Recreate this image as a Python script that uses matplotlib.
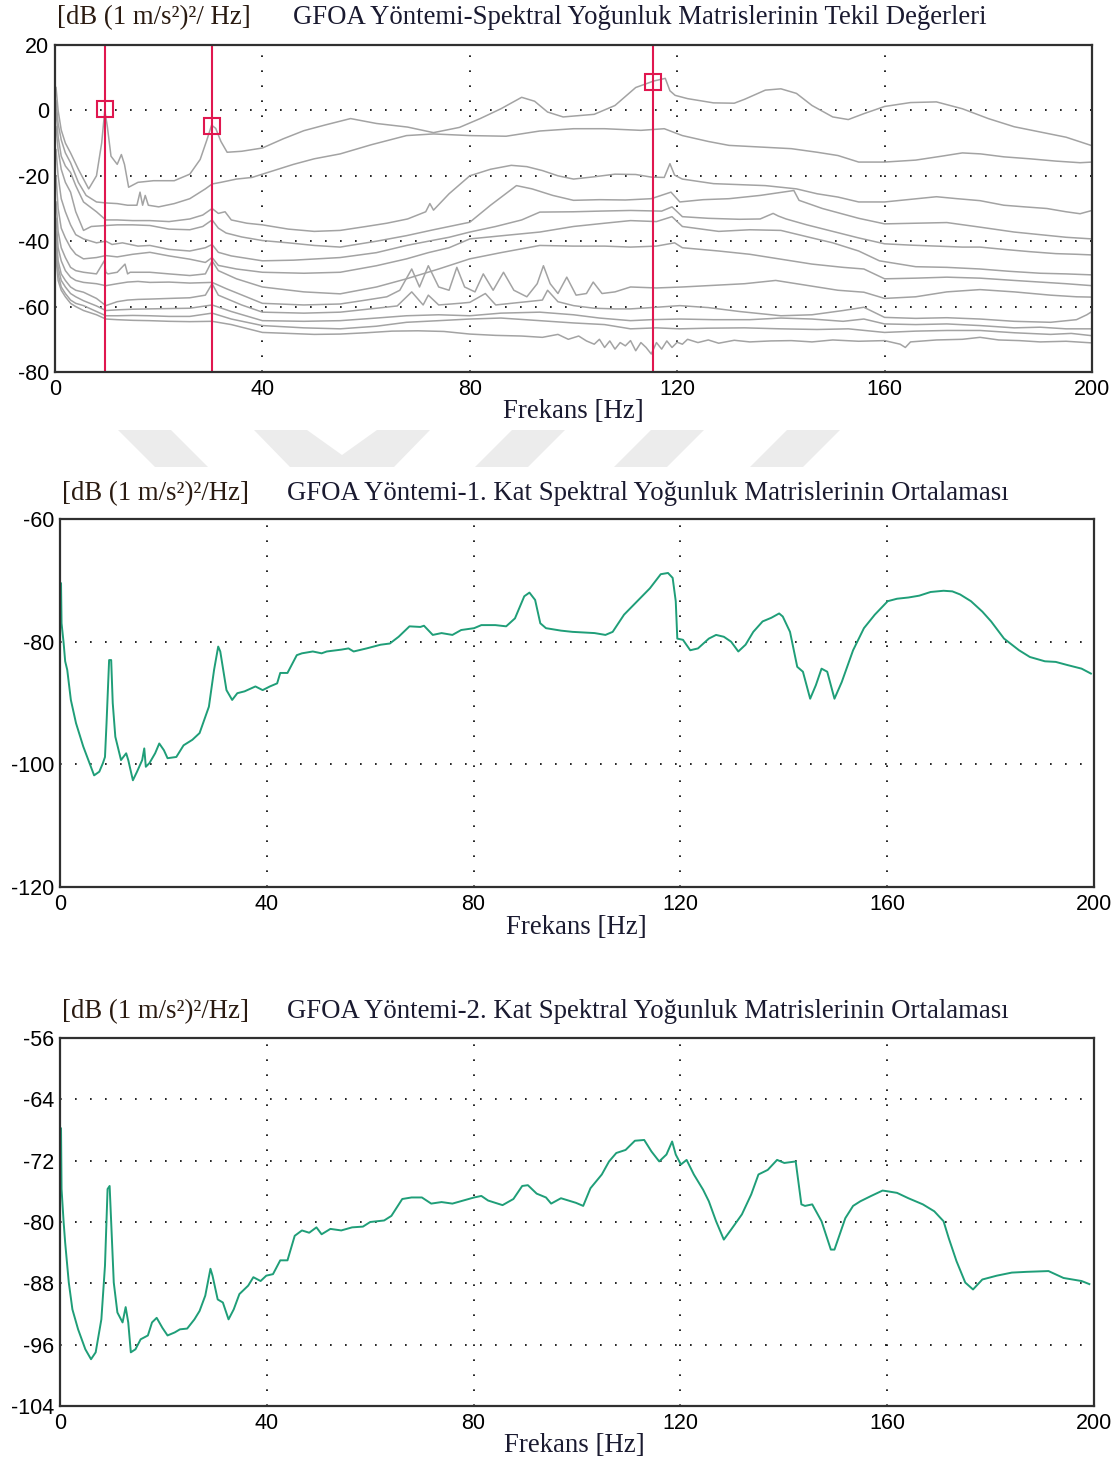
import matplotlib
matplotlib.use("Agg")
import matplotlib.pyplot as plt
from matplotlib.patches import Polygon

plt.rcParams['font.family'] = ['Liberation Sans', 'DejaVu Sans']
plt.rcParams['axes.unicode_minus'] = False

# ---------------- data: singular values (panel 1) ----------------
sv1_f = [0.2, 0.6, 1.2, 2, 3, 4.5, 6.5, 8, 9, 9.6, 10.1, 10.8, 12, 12.8, 13.4, 14.2, 16, 19, 23, 26, 28, 29.3, 30.2,
         31, 32, 33.2, 36, 40, 44, 48, 52, 57, 62, 68, 73, 78, 82, 86, 90, 92.5, 95, 98, 101, 104, 108, 112, 115.5,
         117.7, 118.6, 119.6, 122, 127, 131, 133, 137, 140, 143, 146, 150, 153, 156, 160, 165, 170, 175, 180, 185,
         190, 195, 200]
sv1_db = [7, 0, -6, -10, -13, -18, -24, -20, -10, 0, -5, -14, -16.5, -13.5, -16.5, -23.5, -22, -21.5, -21.5, -19.5,
          -15, -9, -4.5, -5.5, -9.5, -12.8, -12.5, -11.5, -8.7, -6.2, -4.5, -2.5, -4, -5.1, -6.8, -5.2, -2.5, 0.5, 4,
          2.8, -0.5, -2, -1.6, -1.2, 1.5, 7, 9, 9.8, 6, 4.6, 3.6, 2.3, 2.2, 3.4, 6.2, 6.6, 5.2, 1.5, -2, -2.8, -1, 1.2,
          2.4, 2.6, 0.5, -2.5, -5, -6.6, -8.2, -10.8]

sv2_f = [0.2, 0.6, 1.2, 2, 3, 4.5, 6, 8, 9.8, 12, 14, 15.8, 16.4, 16.9, 17.4, 18, 20, 23, 26, 29, 30.3, 32, 35, 38,
         42, 46, 50, 55, 61, 67.8, 73, 80, 87, 93.5, 100, 106, 113, 117.5, 121, 126, 130, 136, 142, 147, 151, 155,
         160, 166, 171, 175, 178.5, 183, 188, 193, 197.7, 200]
sv2_db = [3, -4, -9, -13, -16, -22, -26, -28, -28.3, -28.5, -29, -29, -25, -29, -26, -29, -29.5, -28.5, -27, -24,
          -22.5, -22, -21, -20.5, -18.5, -16.5, -14.8, -13.3, -10.5, -7.7, -7.2, -7.7, -7.9, -6.3, -5.6, -5.6, -6.1,
          -5.6, -7.7, -9.5, -10.7, -11.2, -11.7, -12.8, -13.8, -15.8, -15.8, -15.2, -14, -13, -13.3, -14.2, -14.8,
          -15.5, -16, -15.8]

sv3_f = [0.2, 0.6, 1.2, 2, 3, 4, 5.5, 8, 9.8, 12, 15, 18.3, 22, 26, 28.5, 30.3, 31.5, 32.8, 34, 37, 40, 45, 50, 55,
         60, 64, 68, 71.5, 72.3, 73, 76, 80, 84, 88, 91, 94, 97, 100, 104, 108, 112, 115, 117.5, 118.6, 119.5, 121,
         127, 132, 137, 143, 147, 151, 155, 160, 165, 170, 174, 178.4, 183, 187, 191.3, 195, 197.7, 200]
sv3_db = [0, -8, -14, -17, -19, -23, -28, -31, -33.5, -33.5, -33.7, -33.7, -34, -33.2, -32, -30, -31.5, -31, -33.5,
          -34.5, -35, -36.3, -37, -36.7, -35.5, -34.5, -33.2, -31, -28.5, -30.5, -25.5, -20, -18, -16.8, -17.2,
          -18.4, -20, -21, -20.3, -19.5, -19.6, -20.4, -20.5, -16.3, -19.8, -21, -22.4, -22.7, -23, -24, -25.5,
          -26.5, -28, -28, -27.2, -26.4, -27, -27.6, -29, -29.5, -30, -31, -31.6, -30.6]

sv4_f = [0.2, 0.6, 1.2, 2, 3, 4, 5.5, 7, 9.8, 12, 15, 18.3, 22, 26, 28.5, 30.3, 31.5, 33, 36, 40, 45, 50, 55, 62,
         67.8, 73, 80, 84, 89, 92, 96, 100, 105, 110, 115, 118.8, 120.5, 125, 130, 136, 142.5, 143.5, 148, 155,
         160, 166, 172, 178.4, 185, 190, 195, 200]
sv4_db = [-5, -12, -18, -22, -25, -31, -36.7, -35.5, -35.2, -35, -35, -35.2, -36.3, -36.5, -35.5, -33.5, -36,
          -37.5, -38.7, -39.8, -40.5, -41.3, -41.8, -40, -38.3, -36.5, -34.2, -29, -23, -24, -26, -27.5, -27.3,
          -27.4, -27, -25, -28, -27.3, -27, -26, -24.5, -27.5, -30, -33, -34.7, -34.5, -34.3, -35.7, -37.2, -38,
          -38.8, -39.3]

sv5_f = [0.2, 0.6, 1.2, 2, 3, 4, 5.5, 8, 9.8, 11, 13, 16, 18.3, 22, 26, 29, 30.3, 31.5, 34, 40, 46, 55, 62, 67.8,
         72, 76, 80, 85, 90, 93.5, 100, 105, 111, 117, 119, 121, 126, 132, 136, 138.5, 139.5, 141, 145, 150, 155,
         160, 165, 170, 175, 178.4, 183, 188, 193, 197, 200]
sv5_db = [-12, -20, -27, -31, -35, -38, -39.3, -40.5, -40, -41, -40.5, -41.5, -41.3, -42.5, -43, -42, -41, -43.4,
          -44.5, -46, -45.8, -45, -43.5, -41.3, -40, -38.8, -37.2, -35.5, -33.5, -31.1, -31, -30.8, -30.6, -30.8,
          -29.5, -32.5, -33, -33.3, -33.2, -31.5, -32.3, -33.2, -35, -37, -39, -40.8, -41.2, -41.5, -41.8, -41.8,
          -42.5, -43.2, -43.8, -44, -44.2]

sv6_f = [0.2, 0.6, 1.2, 2, 3, 4, 5.5, 8, 9.8, 12, 15, 18.3, 22, 26, 29, 30.3, 31.5, 35, 40, 48, 55, 62, 67.8, 72,
         76, 80, 87, 93.5, 100, 106, 111, 116, 119, 121, 128, 134, 140, 146, 150, 155, 159, 166, 172, 178.4, 184,
         190, 195, 200]
sv6_db = [-20, -30, -36, -39, -42, -44, -45.4, -45, -44.4, -44.8, -44, -43.4, -44.5, -45.5, -46.5, -45, -47.4,
          -48.5, -49.5, -49.8, -49.5, -47.5, -45.4, -43.5, -42, -39.3, -38.2, -37.2, -35.5, -34.5, -33.7, -34,
          -32.5, -35.5, -37, -36.5, -36.7, -39, -40.5, -43, -46, -47.8, -48, -48.5, -49.2, -49.8, -50, -50.3]

sv7_f = [0.2, 0.6, 1.2, 2, 3, 4, 5.5, 8, 9.5, 9.8, 10.2, 12, 13.5, 14, 14.5, 16, 18.3, 22, 26, 29, 30.3, 31.5, 35,
         40, 48, 55, 62, 67.8, 74, 80, 86, 93.5, 100, 106, 111, 116, 119.5, 121, 128, 134, 140, 146, 152, 156,
         160, 166, 172, 178.4, 185, 190, 195, 200]
sv7_db = [-28, -37, -42, -45, -48, -49, -49.5, -50, -46, -49.5, -50, -49.5, -47, -50, -49.5, -49.5, -49.5, -50,
          -50.5, -50, -46, -49, -51.5, -54, -55.5, -56.1, -54, -51.5, -48.5, -45.4, -43.5, -41.3, -41.5, -41.5,
          -41.8, -41.5, -40.5, -42, -43, -44, -45.5, -47, -48, -48.5, -51.5, -51.3, -51, -51.3, -52, -52.5, -53,
          -53.6]

sv8_f = [0.2, 0.6, 1.2, 2, 3, 4, 5.5, 8, 9.8, 12, 14, 16, 18.3, 22, 26, 30.3, 33, 40, 48, 55, 60, 64, 66.5, 68.8,
         70.3, 72, 74, 76, 77.5, 79, 81, 82.6, 84.5, 86.5, 88.5, 91, 93, 94.2, 95.5, 97, 98.7, 100.5, 102.5, 103.8,
         105.5, 108, 111, 116, 121, 127, 133, 139, 145, 151, 156, 160, 166, 172, 178.4, 185, 192, 197, 200]
sv8_db = [-33, -42, -46, -49, -51, -52, -52.6, -53, -53.6, -53, -52.5, -52.3, -52.6, -52.5, -52.8, -52.6, -54.5,
          -59, -59.5, -59.2, -58, -57, -55, -48.5, -54, -47.5, -54, -55, -48, -54, -55.5, -50, -55, -49.5, -55,
          -57, -53, -47.5, -53, -56, -51, -56.5, -56, -52.5, -56, -55.5, -54, -54.3, -54, -53.5, -53, -52, -53.5,
          -55, -55.6, -57.5, -57, -55.5, -54.8, -55.5, -56.5, -57, -57.1]

sv9_f = [0.2, 0.6, 1.2, 2, 3, 4, 5.5, 8, 9.8, 12, 14, 16, 18.3, 22, 26, 29, 30.3, 31.5, 36, 40, 48, 55, 62, 66,
         68.8, 71, 72, 74, 78, 80, 83, 85, 88, 91, 94, 95, 97, 100, 104, 108, 111, 116, 120.5, 126, 132, 140, 146,
         152, 156, 160, 166, 172, 178.4, 185, 192, 197, 199, 200]
sv9_db = [-37, -46, -50, -52, -54, -55, -55.6, -57.5, -59.7, -58.5, -58, -57.8, -57.7, -57.5, -57.3, -56.5, -53,
          -56.5, -59.5, -61.7, -62, -61.7, -60.5, -59.8, -55.5, -59.5, -56.5, -59.5, -59, -58.7, -56, -59.5, -59,
          -58.5, -58, -55, -58.5, -59.7, -60.5, -60.7, -60.7, -60.2, -59.7, -60.3, -61.5, -62.8, -62.5, -61.2,
          -60.2, -63.3, -63.6, -63.4, -63.8, -64.5, -64.8, -64, -62.5, -61.5]

sv10_f = [0.2, 0.6, 1.2, 2, 3, 4, 5.5, 8, 9.8, 12, 15, 18.3, 22, 26, 30.3, 34, 40, 48, 55, 62, 67.8, 74, 80, 86,
          93.5, 100, 105, 111, 115, 120.5, 127, 134, 140, 146, 152, 156, 160, 166, 172, 178.4, 185, 190, 195, 200]
sv10_db = [-40, -48, -52, -54, -56, -57, -58.2, -59.8, -61.2, -61, -60.8, -60.7, -60.6, -60.5, -59.5, -61.5,
           -64.3, -64.5, -64.3, -63.5, -62.8, -62.5, -62.8, -62, -61.7, -62.5, -63.5, -64.3, -64, -63.8, -64, -64,
           -63.5, -63.8, -64.5, -63.8, -65.3, -65.5, -65.3, -65.8, -66.5, -66.3, -66.8, -66.8]

sv11_f = [0.2, 0.6, 1.2, 2, 3, 4, 5.5, 8, 9.8, 12, 15, 18.3, 22, 26, 30.3, 34, 40, 48, 55, 62, 67.8, 74, 80, 86,
          93.5, 100, 106, 111, 116, 120.5, 126, 133, 140, 147, 153, 160, 166, 172, 178.4, 185, 192, 196, 200]
sv11_db = [-43, -50, -54, -56, -58, -59, -59.7, -61.5, -62.8, -62.8, -62.7, -62.8, -63, -63, -62, -63.8, -65.8,
           -66.5, -66.8, -66, -64.8, -64.3, -63.8, -63.5, -64.3, -65, -65.5, -66.8, -66.5, -66.8, -66.6, -66.5,
           -66.8, -67, -66.8, -67.9, -67.5, -67.3, -67.3, -68, -68.5, -68.2, -68.9]

sv12_f = [0.2, 0.6, 1.2, 2, 3, 4, 5.5, 8, 9.8, 12, 15, 18.3, 22, 26, 30.3, 34, 40, 45, 50, 55, 60, 65, 70, 75, 80,
          85, 90, 94, 97, 99, 101, 102.5, 104, 105, 106, 107, 108, 109, 110, 111, 112, 113, 114, 115, 116, 117, 118,
          119, 120, 121, 122, 124, 126, 128, 131, 134, 138, 142, 146, 150, 155, 160, 163, 164, 165, 170, 175, 178.4,
          182, 186, 190, 195, 200]
sv12_db = [-45, -52, -55, -57, -59, -60, -61.2, -62.5, -63.8, -64, -64.2, -64.3, -64.5, -64.6, -64.5, -65.5, -67.9,
           -68.2, -68.5, -68.4, -68, -67.5, -67.4, -67.6, -68.4, -68.8, -69, -69.4, -68.5, -70, -69, -70.5, -71.5,
           -70, -72.5, -70.5, -73, -71, -72, -70.4, -73.5, -71, -72.5, -74.5, -71, -73, -70.5, -72.5, -70.9, -71.5,
           -70, -71, -70.2, -71.2, -70.3, -70.8, -70.5, -70.4, -70.8, -70.2, -70.6, -70.4, -71.5, -72.5, -70.8,
           -70.2, -70, -69.4, -70.2, -70.4, -70.8, -70.6, -71.1]

sv_freqs = [sv1_f, sv2_f, sv3_f, sv4_f, sv5_f, sv6_f, sv7_f, sv8_f, sv9_f, sv10_f, sv11_f, sv12_f]
sv_dbs = [sv1_db, sv2_db, sv3_db, sv4_db, sv5_db, sv6_db, sv7_db, sv8_db, sv9_db, sv10_db, sv11_db, sv12_db]

# picked peaks (Hz, dB)
peak_f = [9.7, 30.2, 115.3]
peak_db = [0.3, -4.8, 8.7]

# ---------------- data: floor 1 average (panel 2) ----------------
kat1_f = [0.2, 0.3, 0.7, 1.0, 1.4, 2.1, 3.1, 4.5, 6.6, 7.6, 8.3, 8.7, 9.0, 9.5, 9.9, 10.2, 10.7, 11.8, 12.8, 13.2,
          14.1, 14.9, 15.9, 16.3, 16.6, 17.3, 18.4, 19.2, 20.1, 20.8, 22.5, 23.9, 25.6, 27, 28.8, 29.8, 30.6, 31,
          32.2, 33.3, 34.3, 35.7, 37.8, 39.2, 40.6, 42, 42.6, 44, 45.8, 46.8, 48.9, 50.6, 51.6, 54.4, 55.8, 56.8,
          59.3, 62, 63.8, 65.5, 67.6, 69.7, 70.4, 72.1, 73.8, 75.9, 77.6, 80.1, 81.5, 84.2, 86.3, 88, 89.8, 90.8,
          91.9, 92.9, 94, 96.9, 99.1, 101.2, 103.4, 105.5, 106.9, 109.1, 111.9, 114.1, 116.2, 117.6, 118.5, 119.1,
          119.4, 120.5, 121.9, 123.4, 125.5, 126.9, 128.4, 129.8, 131.2, 132.6, 134.1, 135.9, 137.6, 139.1, 139.8,
          141.2, 142.6, 143.7, 145.1, 146.2, 147.3, 148.4, 149.8, 151.2, 153.4, 155.5, 157.6, 160.1, 161.9, 164.1,
          166.2, 168.4, 170.9, 172.6, 174.1, 176.2, 178.4, 180.1, 182.6, 185.5, 187.6, 190.5, 192.6, 194.8, 197.6,
          199.4]
kat1_db = [-70.5, -77, -80.2, -83.2, -84.6, -89.5, -93.3, -97.1, -101.8, -101.2, -99.8, -98.8, -93.3, -83, -83,
           -90, -95.5, -99.3, -98.2, -99.3, -102.6, -101.2, -99.3, -97.4, -100.4, -99.8, -98.2, -96.6, -97.7, -99,
           -98.8, -96.9, -96, -94.9, -90.6, -84.6, -80.8, -81.6, -87.9, -89.5, -88.4, -88.1, -87.3, -87.9, -87.3,
           -86.8, -85.1, -85.1, -82.2, -81.9, -81.6, -81.9, -81.6, -81.3, -81.1, -81.6, -81.1, -80.5, -80.3, -79.2,
           -77.5, -77.6, -77.4, -78.9, -78.6, -78.9, -78.1, -77.8, -77.3, -77.3, -77.5, -76.2, -72.6, -72, -73.2,
           -77, -77.8, -78.2, -78.4, -78.5, -78.6, -78.9, -78.4, -75.6, -73.2, -71.3, -69, -68.8, -69.6, -73.4,
           -79.5, -79.7, -81.4, -81.1, -79.5, -78.9, -79.2, -80, -81.6, -80.5, -78.4, -76.7, -76.1, -75.4, -75.9,
           -78.4, -84.1, -84.9, -89.3, -87.1, -84.4, -84.9, -89.3, -86.6, -81.4, -77.8, -75.6, -73.4, -73, -72.8,
           -72.5, -71.9, -71.7, -71.8, -72.3, -73.4, -75.1, -76.7, -79.5, -81.4, -82.5, -83.2, -83.3, -83.8, -84.4,
           -85.2]

# ---------------- data: floor 2 average (panel 3) ----------------
kat2_f = [0.2, 0.3, 0.7, 1.0, 1.7, 2.4, 3.5, 4.9, 6.0, 6.9, 8.0, 8.7, 9.2, 9.6, 9.9, 10.4, 11.1, 12.1, 12.7, 13.2,
          13.7, 14.6, 15.6, 17, 17.8, 18.7, 19.8, 20.8, 22.2, 23.2, 24.6, 26, 27, 28.1, 29.1, 29.5, 30.5, 31.5,
          32.6, 33.6, 34.7, 36.4, 37.4, 38.8, 39.9, 41.2, 42.6, 44, 45.4, 46.8, 48.2, 49.6, 50.6, 52.3, 54.4, 56.5,
          58.6, 60, 62.7, 64.1, 66.2, 68, 70, 71.8, 73.8, 75.9, 78, 80.1, 81.5, 82.8, 85.6, 87.7, 89.4, 90.5, 92.2,
          94, 95, 96.9, 99.8, 101.2, 102.6, 104.8, 106.2, 107.6, 109.4, 111.2, 113, 114.4, 115.9, 117.3, 118.4,
          119.1, 120.1, 121.2, 122.6, 124.4, 125.5, 126.9, 128.4, 129.8, 131.9, 133.7, 135.1, 136.9, 138.7, 140.1,
          142.3, 143.4, 144.1, 145.5, 147.3, 149.1, 149.8, 151.9, 153.4, 154.8, 156.9, 159.1, 160.1, 161.9, 164.1,
          166.9, 169.1, 170.9, 171.9, 173.4, 175.1, 176.6, 178.4, 181.2, 184.1, 187, 191.2, 194.1, 197.6, 199.1]
kat2_db = [-67.8, -75.7, -80, -82.7, -87.9, -91.4, -94, -96.6, -97.9, -97, -92.7, -85.7, -75.7, -75.3, -80, -87.9,
           -91.8, -93.1, -91.1, -93.1, -97, -96.6, -95.3, -94.8, -93.1, -92.5, -93.8, -94.8, -94.4, -94, -93.9,
           -92.7, -91.6, -89.6, -86.1, -87, -90.1, -90.5, -92.7, -91.4, -89.4, -88.3, -87.2, -87.7, -87, -86.8, -85,
           -85, -81.8, -81.1, -81.4, -80.7, -81.6, -80.9, -81.1, -80.7, -80.6, -80, -79.8, -79.2, -77, -76.8, -76.8,
           -77.6, -77.4, -77.6, -77.2, -76.8, -76.6, -77.2, -77.8, -77, -75.3, -75.2, -76.3, -76.8, -77.6, -76.9,
           -77.5, -77.9, -75.6, -73.8, -72.1, -71, -70.6, -69.4, -69.3, -70.8, -72.1, -71.2, -69.5, -71.2, -72.5,
           -71.9, -73.8, -75.8, -77.3, -79.9, -82.3, -81, -79, -76.4, -73.8, -73.2, -71.9, -72.3, -72.1, -77.7,
           -77.9, -77.7, -79.9, -83.6, -83.6, -79.5, -77.9, -77.3, -76.6, -75.9, -76, -76.2, -76.9, -77.7, -78.6,
           -79.9, -82.1, -85.1, -87.9, -88.8, -87.5, -87, -86.6, -86.5, -86.4, -87.3, -87.7, -88.1]

freq_ticks = [0, 40, 80, 120, 160, 200]

# ---------------- figure ----------------
W, H = 1118, 1463
fig = plt.figure(figsize=(W / 100, H / 100), dpi=100)

def box(l, t, r, b):
    return [l / W, 1 - b / H, (r - l) / W, (b - t) / H]

def ftext(x, y, s, **kw):
    fig.text(x / W, 1 - y / H, s, **kw)

GRID = dict(color='black', lw=1.2, ls=(0, (1, 8)), zorder=1)

def style(ax, ylim, yticks, ygrid):
    ax.set_xlim(0, 200)
    ax.set_ylim(*ylim)
    ax.set_xticks(freq_ticks)
    ax.set_yticks(yticks)
    ax.tick_params(length=0, labelsize=15.5, pad=5)
    ax.tick_params(axis='y', pad=4)
    for x in [40, 80, 120, 160]:
        ax.axvline(x, **GRID)
    for y in ygrid:
        ax.axhline(y, **GRID)
    for s in ax.spines.values():
        s.set_linewidth(1.6)
        s.set_color('#303030')
        s.set_zorder(5)

serif = dict(family=['Liberation Serif', 'DejaVu Serif'], fontsize=19.3, va='center')

# panel 1
ax1 = fig.add_axes(box(55, 45, 1092, 372))
for f, db in zip(sv_freqs, sv_dbs):
    ax1.plot(f, db, color='#a3a3a3', lw=1.1, zorder=2)
for pf in peak_f:
    ax1.axvline(pf, color='#e0174f', lw=1.5, zorder=3)
ax1.plot(peak_f, peak_db, ls='none', marker='s', ms=11, mfc='none', mec='#e0174f', mew=1.5, zorder=4)
style(ax1, (-80, 20), [20, 0, -20, -40, -60, -80], [0, -20, -40, -60])
ftext(57, 18, '[dB (1 m/s²)²/ Hz]', color='#2a1a10', ha='left', **serif)
ftext(293, 18, 'GFOA Yöntemi-Spektral Yoğunluk Matrislerinin Tekil Değerleri', color='#1a1a30', ha='left', **serif)
ftext(573, 411, 'Frekans [Hz]', color='#1a1a30', ha='center', **serif)

# panel 2
ax2 = fig.add_axes(box(60, 519, 1094, 887))
ax2.plot(kat1_f, kat1_db, color='#1f9e78', lw=1.4, zorder=3)
style(ax2, (-120, -60), [-60, -80, -100, -120], [-80, -100])
ftext(62, 494, '[dB (1 m/s²)²/Hz]', color='#2a1a10', ha='left', **serif)
ftext(287, 494, 'GFOA Yöntemi-1. Kat Spektral Yoğunluk Matrislerinin Ortalaması', color='#1a1a30', ha='left', **serif)
ftext(576, 928, 'Frekans [Hz]', color='#1a1a30', ha='center', **serif)

# panel 3
ax3 = fig.add_axes(box(60, 1038, 1094, 1406))
ax3.plot(kat2_f, kat2_db, color='#1f9e78', lw=1.4, zorder=3)
style(ax3, (-104, -56), [-56, -64, -72, -80, -88, -96, -104], [-64, -72, -80, -88, -96])
ftext(62, 1012, '[dB (1 m/s²)²/Hz]', color='#2a1a10', ha='left', **serif)
ftext(287, 1012, 'GFOA Yöntemi-2. Kat Spektral Yoğunluk Matrislerinin Ortalaması', color='#1a1a30', ha='left', **serif)
ftext(574, 1445, 'Frekans [Hz]', color='#1a1a30', ha='center', **serif)

# faint watermark between the first two panels
t, b = 430, 467
marks = [
    [(118, t), (171, t), (208, b), (155, b)],
    [(254, t), (307, t), (342, 455), (377, t), (430, t), (394, b), (290, b)],
    [(512, t), (565, t), (528, b), (475, b)],
    [(651, t), (704, t), (667, b), (614, b)],
    [(787, t), (840, t), (803, b), (750, b)],
]
for m in marks:
    pts = [(x / W, 1 - y / H) for x, y in m]
    fig.add_artist(Polygon(pts, closed=True, transform=fig.transFigure, color='#ececec', lw=0, zorder=0))

fig.savefig('out.png', dpi=100)
